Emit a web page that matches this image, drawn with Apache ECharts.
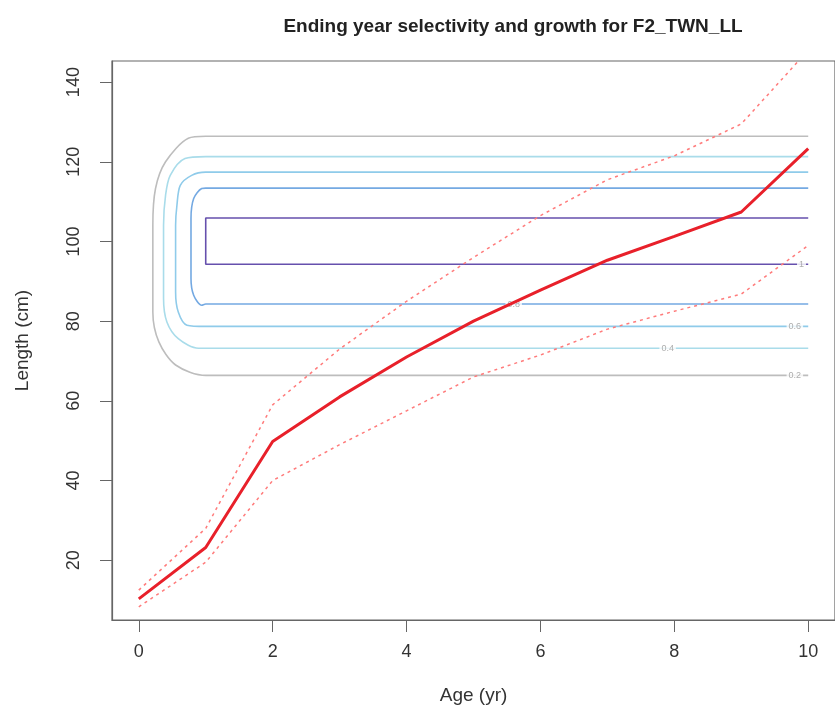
<!DOCTYPE html>
<html>
<head>
<meta charset="utf-8">
<script src="https://cdn.jsdelivr.net/npm/echarts@6/dist/echarts.min.js"></script>
<style>
  body { margin: 0; background: #fff; }
  #chart { width: 835px; height: 711px; }
</style>
</head>
<body>
<div id="chart"></div>
<script>
// growth curve (length at age) with upper / lower bounds
var ages = [0, 1, 2, 3, 4, 5, 6, 7, 8, 9, 10];
var lenMean = [10.3, 23.2, 49.8, 61, 71, 80, 87.8, 95.3, 101.3, 107.4, 123.3];
var lenUpper = [12.5, 28, 59, 73, 85, 96, 106.5, 115.5, 121.5, 129.5, 148];
var lenLower = [8.3, 19.5, 40, 49, 57.5, 66, 71.5, 78, 82.5, 86.8, 99];

// selectivity contours, [age, length] along each line
var levels = ["0.2", "0.4", "0.6", "0.8", "1"];
var contour02 = [[10, 126.4], [1, 126.4], [0.74, 125.9], [0.40, 120], [0.25, 113.3], [0.21, 104], [0.21, 82.3], [0.30, 74.8], [0.55, 69], [1, 66.4], [10, 66.4]];
var contour04 = [[10, 121.3], [1, 121.3], [0.69, 120.8], [0.47, 116.6], [0.40, 111.6], [0.37, 104.1], [0.37, 85.7], [0.42, 79.8], [0.59, 75.6], [0.89, 73.2], [1, 73.2], [10, 73.2]];
var contour06 = [[10, 117.4], [1, 117.4], [0.79, 116.6], [0.62, 114.1], [0.57, 109.1], [0.55, 104.1], [0.55, 87.4], [0.59, 82.3], [0.72, 79], [1, 78.7], [10, 78.7]];
var contour08 = [[10, 113.4], [1, 113.4], [0.94, 113.3], [0.82, 110.8], [0.78, 105.8], [0.78, 90.7], [0.82, 86.5], [0.94, 84], [1, 84.3], [10, 84.3]];
var contour10 = [[10, 105.9], [1, 105.9], [1, 94.3], [10, 94.3]];

// where the contour labels sit
var labelAge = [9.8, 7.9, 9.8, 5.6, 9.9];
var labelLen = [66.4, 73.2, 78.7, 84.3, 94.3];

var xTicks = [0, 2, 4, 6, 8, 10];
var yTicks = [20, 40, 60, 80, 100, 120, 140];

var contourColors = ["#bdbdbd", "#a9dcea", "#8fcbea", "#74a9e2", "#6650ad"];
var contours = [contour02, contour04, contour06, contour08, contour10];

function pairs(xs, ys) {
  return xs.map(function (x, i) { return [x, ys[i]]; });
}

var series = [];
for (var i = 0; i < contours.length; i++) {
  series.push({
    name: "sel " + levels[i],
    type: "line",
    data: contours[i],
    symbol: "none",
    smooth: i < 4 ? 0.3 : false,
    lineStyle: { color: contourColors[i], width: 1.6 },
    z: 2
  });
}
series.push({
  name: "labels",
  type: "scatter",
  symbolSize: 0,
  data: levels.map(function (t, i) { return { value: [labelAge[i], labelLen[i]], name: t }; }),
  label: {
    show: true,
    position: "inside",
    formatter: "{b}",
    fontSize: 9,
    color: "#999",
    backgroundColor: "#fff",
    padding: [0, 2]
  },
  z: 3
});
series.push({
  name: "upper",
  type: "line",
  data: pairs(ages, lenUpper),
  symbol: "none",
  lineStyle: { color: "#ff7b7b", width: 1.5, type: [3, 4] },
  z: 4
});
series.push({
  name: "lower",
  type: "line",
  data: pairs(ages, lenLower),
  symbol: "none",
  lineStyle: { color: "#ff7b7b", width: 1.5, type: [3, 4] },
  z: 4
});
series.push({
  name: "mean",
  type: "line",
  data: pairs(ages, lenMean),
  symbol: "none",
  lineStyle: { color: "#e8202a", width: 3 },
  z: 5
});

var myChart = echarts.init(document.getElementById("chart"));
myChart.setOption({
  animation: false,
  textStyle: { fontFamily: "Liberation Sans" },
  title: {
    text: "Ending year selectivity and growth for F2_TWN_LL",
    left: 508,
    top: 12,
    textAlign: "center",
    textStyle: { fontSize: 19, fontWeight: "bold", color: "#222", fontFamily: "Liberation Sans" }
  },
  grid: {
    left: 112,
    top: 61,
    width: 728,
    height: 559,
    show: true,
    borderColor: "#666",
    borderWidth: 1.2,
    containLabel: false
  },
  xAxis: {
    type: "value",
    min: -0.4,
    max: 10.4,
    name: "Age (yr)",
    nameLocation: "middle",
    nameGap: 66,
    nameTextStyle: { fontSize: 19, color: "#333" },
    axisLine: { show: true, onZero: false, lineStyle: { color: "#666", width: 1.2 } },
    axisTick: { show: true, length: 12, customValues: xTicks, lineStyle: { color: "#666" } },
    axisLabel: { customValues: xTicks, margin: 23, fontSize: 18, color: "#333" },
    splitLine: { show: false }
  },
  yAxis: {
    type: "value",
    min: 5,
    max: 145.3,
    name: "Length (cm)",
    nameLocation: "middle",
    nameGap: 80,
    nameTextStyle: { fontSize: 19, color: "#333" },
    axisLine: { show: true, onZero: false, lineStyle: { color: "#666", width: 1.2 } },
    axisTick: { show: true, length: 12, customValues: yTicks, lineStyle: { color: "#666" } },
    axisLabel: { customValues: yTicks, rotate: 90, margin: 29, fontSize: 18, color: "#333" },
    splitLine: { show: false }
  },
  series: series
});
</script>
</body>
</html>
